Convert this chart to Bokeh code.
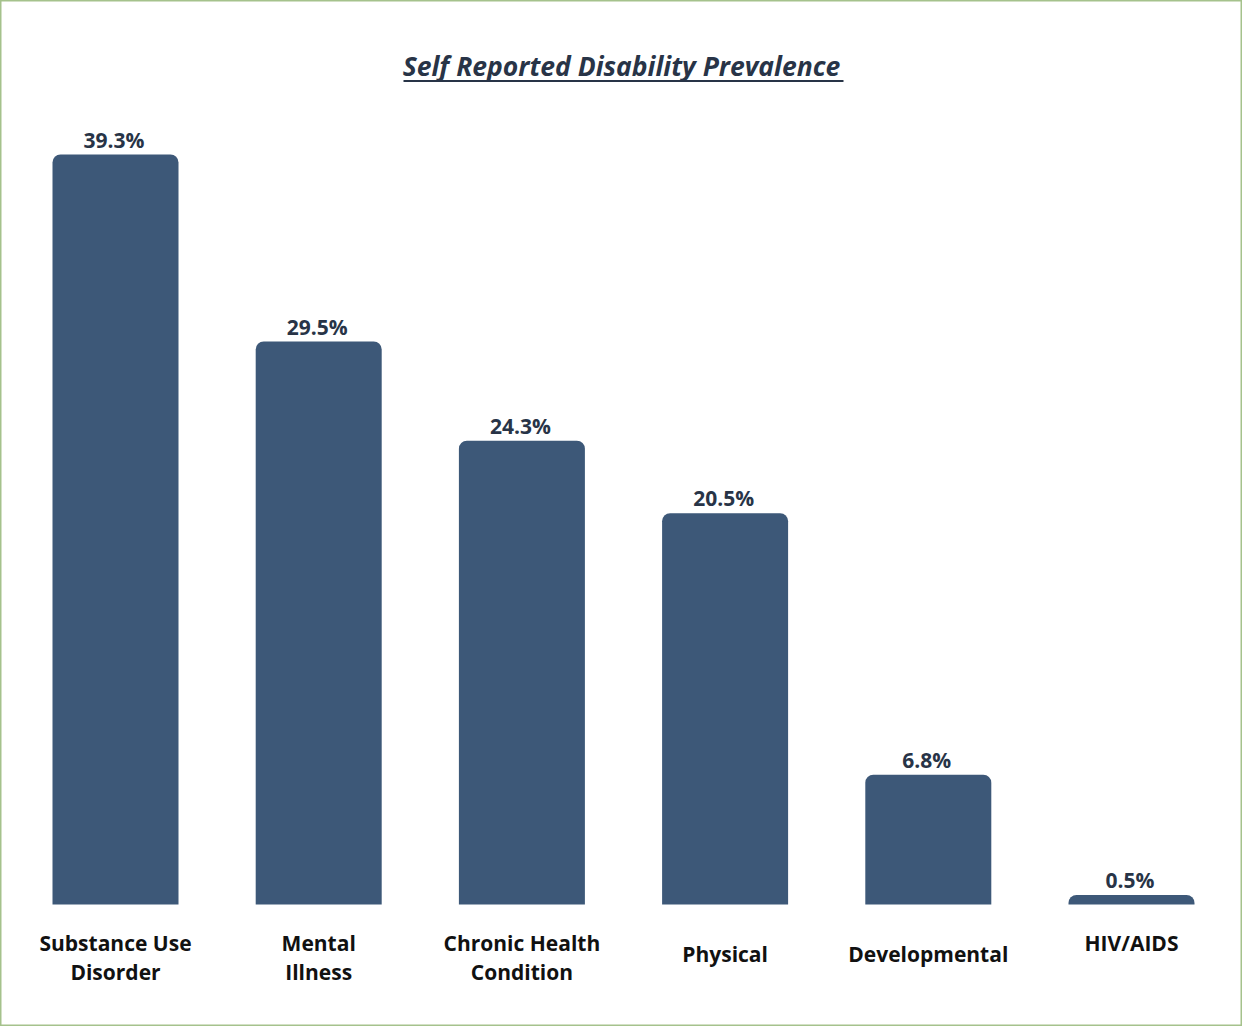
from bokeh.plotting import figure
from bokeh.models import ColumnDataSource, Range1d
from bokeh.core.properties import value
from bokeh.embed import file_html
from bokeh.resources import INLINE

# ---- data ----
categories = ["Substance Use Disorder", "Mental Illness", "Chronic Health Condition",
              "Physical", "Developmental", "HIV/AIDS"]
label_text = ["Substance Use\nDisorder", "Mental\nIllness", "Chronic Health\nCondition",
              "Physical", "Developmental", "HIV/AIDS"]
prevalence = [39.3, 29.5, 24.3, 20.5, 6.8, 0.5]
title_text = "Self Reported Disability Prevalence"

# ---- layout ----
W, H = 1242, 1026
BASE_PX = 904                 # baseline (y=0) from figure top, px
S = 750 / 39.3                # px per percentage unit
CAT_PX = 203.2                # px per category
X0 = -115 / CAT_PX + 0.5      # x range start
label_dy = [0, 0, 0, -4, -4, -15]   # vertical nudges of category labels, px

def yd(px):
    return (BASE_PX - px) / S

def xd(px):
    return X0 + px / CAT_PX

xs = [i + 0.5 for i in range(len(categories))]
src = ColumnDataSource(dict(
    x=xs, top=prevalence,
    lbl=[f"{v:.1f}%" for v in prevalence],
    cat=label_text,
    cat_dy=label_dy,
))

p = figure(width=W, height=H, output_backend="svg", toolbar_location=None,
           x_range=Range1d(X0, X0 + W / CAT_PX), y_range=Range1d(yd(H), yd(0)),
           x_axis_location=None, y_axis_location=None,
           min_border=0, min_border_left=0, min_border_right=0,
           min_border_top=0, min_border_bottom=0)
p.grid.visible = False
p.outline_line_color = "#a5c28c"
p.outline_line_width = 2
p.background_fill_color = "white"
p.border_fill_color = "white"

p.vbar(x="x", top="top", bottom=0, width=126 / CAT_PX, source=src,
       fill_color="#3d5878", line_color=None, border_radius=(8, 8, 0, 0))

p.text(x="x", y="top", text="lbl", source=src, text_align="center",
       text_baseline="bottom", y_offset=-1, x_offset=-1.5,
       text_font=value("Open Sans"), text_font_style="bold",
       text_font_size="21px", text_color="#283447")

p.text(x="x", y=yd(957), text="cat", source=src, text_align="center",
       text_baseline="middle", y_offset="cat_dy",
       text_font=value("Open Sans"), text_font_style="bold",
       text_font_size="21px", text_color="#111111", text_line_height=1.05)

# title with underline
tx = (X0 + X0 + W / CAT_PX) / 2
p.text(x=[tx], y=[yd(65)], text=[title_text], text_align="center",
       text_baseline="middle", text_font=value("Open Sans"),
       text_font_style="bold italic", text_font_size="26.5px", text_color="#283447")
p.line(x=[xd(403), xd(843)], y=[yd(80.5), yd(80.5)], line_color="#283447",
       line_width=2)

open("out.html", "w").write(file_html(p, INLINE))
